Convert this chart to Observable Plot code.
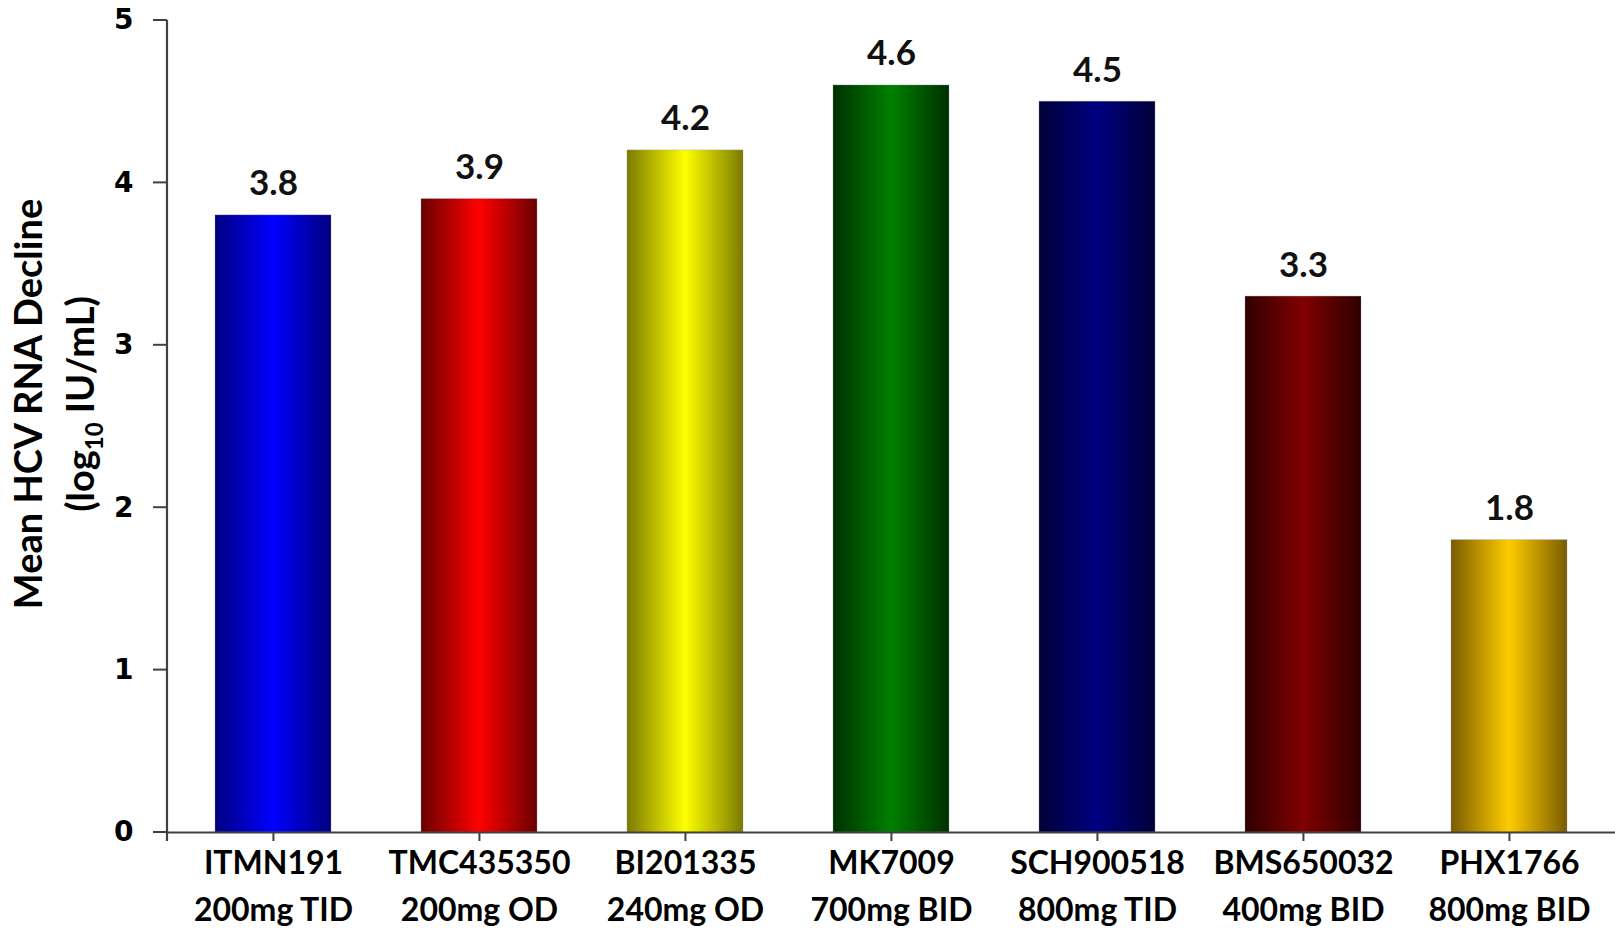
<!DOCTYPE html>
<html>
<head>
<meta charset="utf-8">
<script src="https://cdn.jsdelivr.net/npm/d3@7"></script>
<script src="https://cdn.jsdelivr.net/npm/@observablehq/plot@0.6"></script>
<style>
  html, body { margin: 0; padding: 0; background: #fff; }
  #chart { width: 1615px; height: 932px; }
</style>
</head>
<body>
<div id="chart"></div>
<script>
// ---- data ----
const drugs = ["ITMN191", "TMC435350", "BI201335", "MK7009", "SCH900518", "BMS650032", "PHX1766"];
const doses = ["200mg TID", "200mg OD", "240mg OD", "700mg BID", "800mg TID", "400mg BID", "800mg BID"];
const declines = [3.8, 3.9, 4.2, 4.6, 4.5, 3.3, 1.8];
const yTicks = [0, 1, 2, 3, 4, 5];

// ---- styling (gradient edge / centre colours) ----
const edgeColors = ["#000080", "#6a0000", "#7a7a00", "#003000", "#000038", "#300000", "#7a5c00"];
const centerColors = ["#0000ff", "#ff0000", "#ffff00", "#008000", "#000080", "#800000", "#ffcc00"];

const rows = drugs.map((d, i) => ({drug: d, dose: doses[i], value: declines[i], grad: `url(#grad${i})`}));

const W = 1615, H = 932;
const mL = 167, mR = 0, mT = 20, mB = 100;
const halfBand = (W - mL - mR) / drugs.length / 2;
const font = "Lato, 'Open Sans', sans-serif";
const axisColor = "#404040";

const plot = Plot.plot({
  width: W,
  height: H,
  marginLeft: mL,
  marginRight: mR,
  marginTop: mT,
  marginBottom: mB,
  style: {fontFamily: font, background: "#fff", color: "#000"},
  x: {domain: drugs, padding: 0, axis: null},
  y: {domain: [0, 5], axis: null},
  color: {type: "identity"},
  marks: [
    Plot.barY(rows, {x: "drug", y: "value", fill: "grad", insetLeft: 45, insetRight: 45,
      stroke: "#9090a0", strokeWidth: 0.6, strokeOpacity: 0.5}),
    // value labels
    Plot.text(rows, {x: "drug", y: "value", text: d => d.value.toFixed(1), lineAnchor: "bottom", dy: -20,
      fontSize: 35, fontWeight: "bold", fill: "#111"}),
    // x category labels
    Plot.text(rows, {x: "drug", y: 0, text: d => d.drug + "\n" + d.dose, lineAnchor: "top", dy: 9,
      fontSize: 32, fontWeight: "bold", lineHeight: 1.45, fill: "#000"}),
    // y axis ticks
    Plot.tickY(yTicks, {y: d => d,
      render: (index, scales, values, dims, context) => {
        const g = d3.select(context.document.createElementNS("http://www.w3.org/2000/svg", "g"));
        for (const i of index) {
          const y = values.y[i];
          g.append("line").attr("x1", mL - 14).attr("x2", mL).attr("y1", y).attr("y2", y)
            .attr("stroke", axisColor).attr("stroke-width", 2);
        }
        return g.node();
      }}),
    Plot.text(yTicks, {y: d => d, text: d => String(d), frameAnchor: "left", textAnchor: "end", dx: -34,
      fontFamily: "'DejaVu Sans', sans-serif", fontSize: 28, fontWeight: "bold", fill: "#000"}),
    // x boundary ticks (between categories)
    Plot.tickX(drugs, {x: d => d,
      render: (index, scales, values, dims, context) => {
        const g = d3.select(context.document.createElementNS("http://www.w3.org/2000/svg", "g"));
        const y0 = scales.y(0);
        for (const i of index) {
          const x = values.x[i] + halfBand;
          g.append("line").attr("x1", x).attr("x2", x).attr("y1", y0).attr("y2", y0 + 9)
            .attr("stroke", axisColor).attr("stroke-width", 2);
        }
        return g.node();
      }}),
    Plot.ruleY([0], {stroke: axisColor, strokeWidth: 2.2}),
    Plot.ruleY([0], {
      render: (index, scales, values, dims, context) => {
        const g = d3.select(context.document.createElementNS("http://www.w3.org/2000/svg", "g"));
        g.append("line").attr("x1", mL).attr("x2", mL).attr("y1", scales.y(5)).attr("y2", scales.y(0) + 9)
          .attr("stroke", axisColor).attr("stroke-width", 2.2);
        return g.node();
      }})
  ]
});

// gradients
const svg = d3.select(plot);
const defs = svg.insert("defs", ":first-child");
drugs.forEach((d, i) => {
  const lg = defs.append("linearGradient").attr("id", `grad${i}`).attr("x1", "0%").attr("x2", "100%").attr("y1", "0%").attr("y2", "0%");
  lg.append("stop").attr("offset", "0%").attr("stop-color", edgeColors[i]);
  lg.append("stop").attr("offset", "50%").attr("stop-color", centerColors[i]);
  lg.append("stop").attr("offset", "100%").attr("stop-color", edgeColors[i]);
});

// y-axis title (two lines, with subscript)
const yMid = 404;
svg.append("text")
  .attr("transform", `translate(42,${yMid}) rotate(-90)`)
  .attr("text-anchor", "middle")
  .attr("font-family", font).attr("font-size", 38).attr("font-weight", "bold")
  .text("Mean HCV RNA Decline");
const t2 = svg.append("text")
  .attr("transform", `translate(94,${yMid}) rotate(-90)`)
  .attr("text-anchor", "middle")
  .attr("font-family", font).attr("font-size", 38).attr("font-weight", "bold");
t2.append("tspan").text("(log");
t2.append("tspan").attr("font-size", 24).attr("dy", 9).text("10");
t2.append("tspan").attr("dy", -9).text(" IU/mL)");

document.getElementById("chart").appendChild(plot);
</script>
</body>
</html>
